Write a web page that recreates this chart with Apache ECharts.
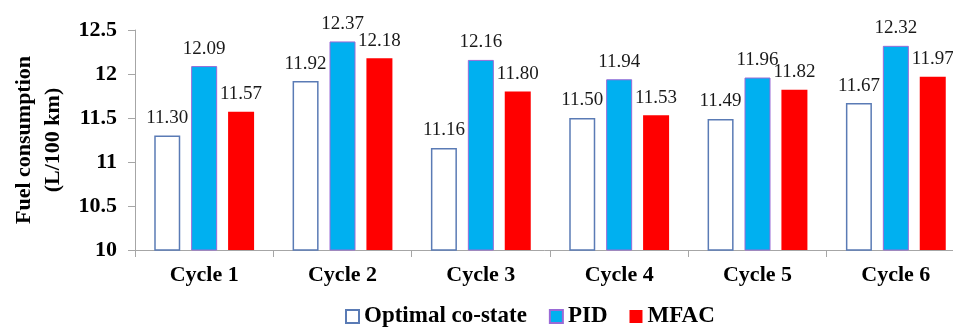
<!DOCTYPE html>
<html>
<head>
<meta charset="utf-8">
<script src="https://cdn.jsdelivr.net/npm/echarts@6/dist/echarts.min.js"></script>
<style>
  html, body { margin: 0; padding: 0; background: #ffffff; }
  #chart { width: 953px; height: 327px; }
</style>
</head>
<body>
<div id="chart"></div>
<script>
// Fuel consumption per driving cycle for three control strategies
const cycles = ['Cycle 1', 'Cycle 2', 'Cycle 3', 'Cycle 4', 'Cycle 5', 'Cycle 6'];
const optimalCoState = [11.30, 11.92, 11.16, 11.50, 11.49, 11.67];
const pid = [12.09, 12.37, 12.16, 11.94, 11.96, 12.32];
const mfac = [11.57, 12.18, 11.80, 11.53, 11.82, 11.97];
const yTicks = [10, 10.5, 11, 11.5, 12, 12.5];

const SERIF = '"Liberation Serif", "Times New Roman", serif';

const valueLabel = {
  show: true,
  position: 'top',
  distance: 8,
  fontFamily: SERIF,
  fontSize: 19,
  color: '#1a1a1a',
  formatter: p => p.value.toFixed(2)
};

const chart = echarts.init(document.getElementById('chart'), null, { renderer: 'canvas' });

chart.setOption({
  animation: false,
  backgroundColor: '#ffffff',
  grid: {
    left: 135,
    right: -12,
    top: 30,
    bottom: 77,
    containLabel: false,
    outerBoundsMode: 'none'
  },
  legend: {
    left: 345,
    top: 305,
    padding: 0,
    icon: 'rect',
    itemWidth: 13,
    itemHeight: 13,
    itemGap: 22,
    textStyle: {
      fontFamily: SERIF,
      fontWeight: 'bold',
      fontSize: 23,
      color: '#000000'
    },
    data: ['Optimal co-state', 'PID', 'MFAC']
  },
  xAxis: {
    type: 'category',
    data: cycles,
    axisLine: { lineStyle: { color: '#a6a6a6', width: 1 } },
    axisTick: { show: true, length: 7, alignWithLabel: false, lineStyle: { color: '#a6a6a6' } },
    axisLabel: {
      margin: 14,
      fontFamily: SERIF,
      fontWeight: 'bold',
      fontSize: 22,
      color: '#000000'
    }
  },
  yAxis: {
    type: 'value',
    min: yTicks[0],
    max: yTicks[yTicks.length - 1],
    interval: 0.5,
    name: 'Fuel consumption\n(L/100 km)',
    nameLocation: 'middle',
    nameGap: 67,
    nameTextStyle: {
      fontFamily: SERIF,
      fontWeight: 'bold',
      fontSize: 22,
      lineHeight: 29,
      color: '#000000'
    },
    axisLine: { show: true, lineStyle: { color: '#a6a6a6', width: 1 } },
    axisTick: { show: true, length: 7, lineStyle: { color: '#a6a6a6' } },
    splitLine: { show: false },
    axisLabel: {
      margin: 18,
      fontFamily: SERIF,
      fontWeight: 'bold',
      fontSize: 22,
      color: '#000000',
      formatter: v => String(v)
    }
  },
  series: [
    {
      name: 'Optimal co-state',
      type: 'bar',
      data: optimalCoState,
      barWidth: 26,
      barGap: '42%',
      itemStyle: { color: '#ffffff', borderColor: '#5a7bb5', borderWidth: 1.5 },
      label: valueLabel
    },
    {
      name: 'PID',
      type: 'bar',
      data: pid,
      barWidth: 26,
      barGap: '42%',
      itemStyle: { color: '#00b0f0', borderColor: '#9a6ad6', borderWidth: 1 },
      label: valueLabel
    },
    {
      name: 'MFAC',
      type: 'bar',
      data: mfac,
      barWidth: 26,
      barGap: '42%',
      itemStyle: { color: '#ff0000' },
      label: valueLabel
    }
  ]
});
</script>
</body>
</html>
